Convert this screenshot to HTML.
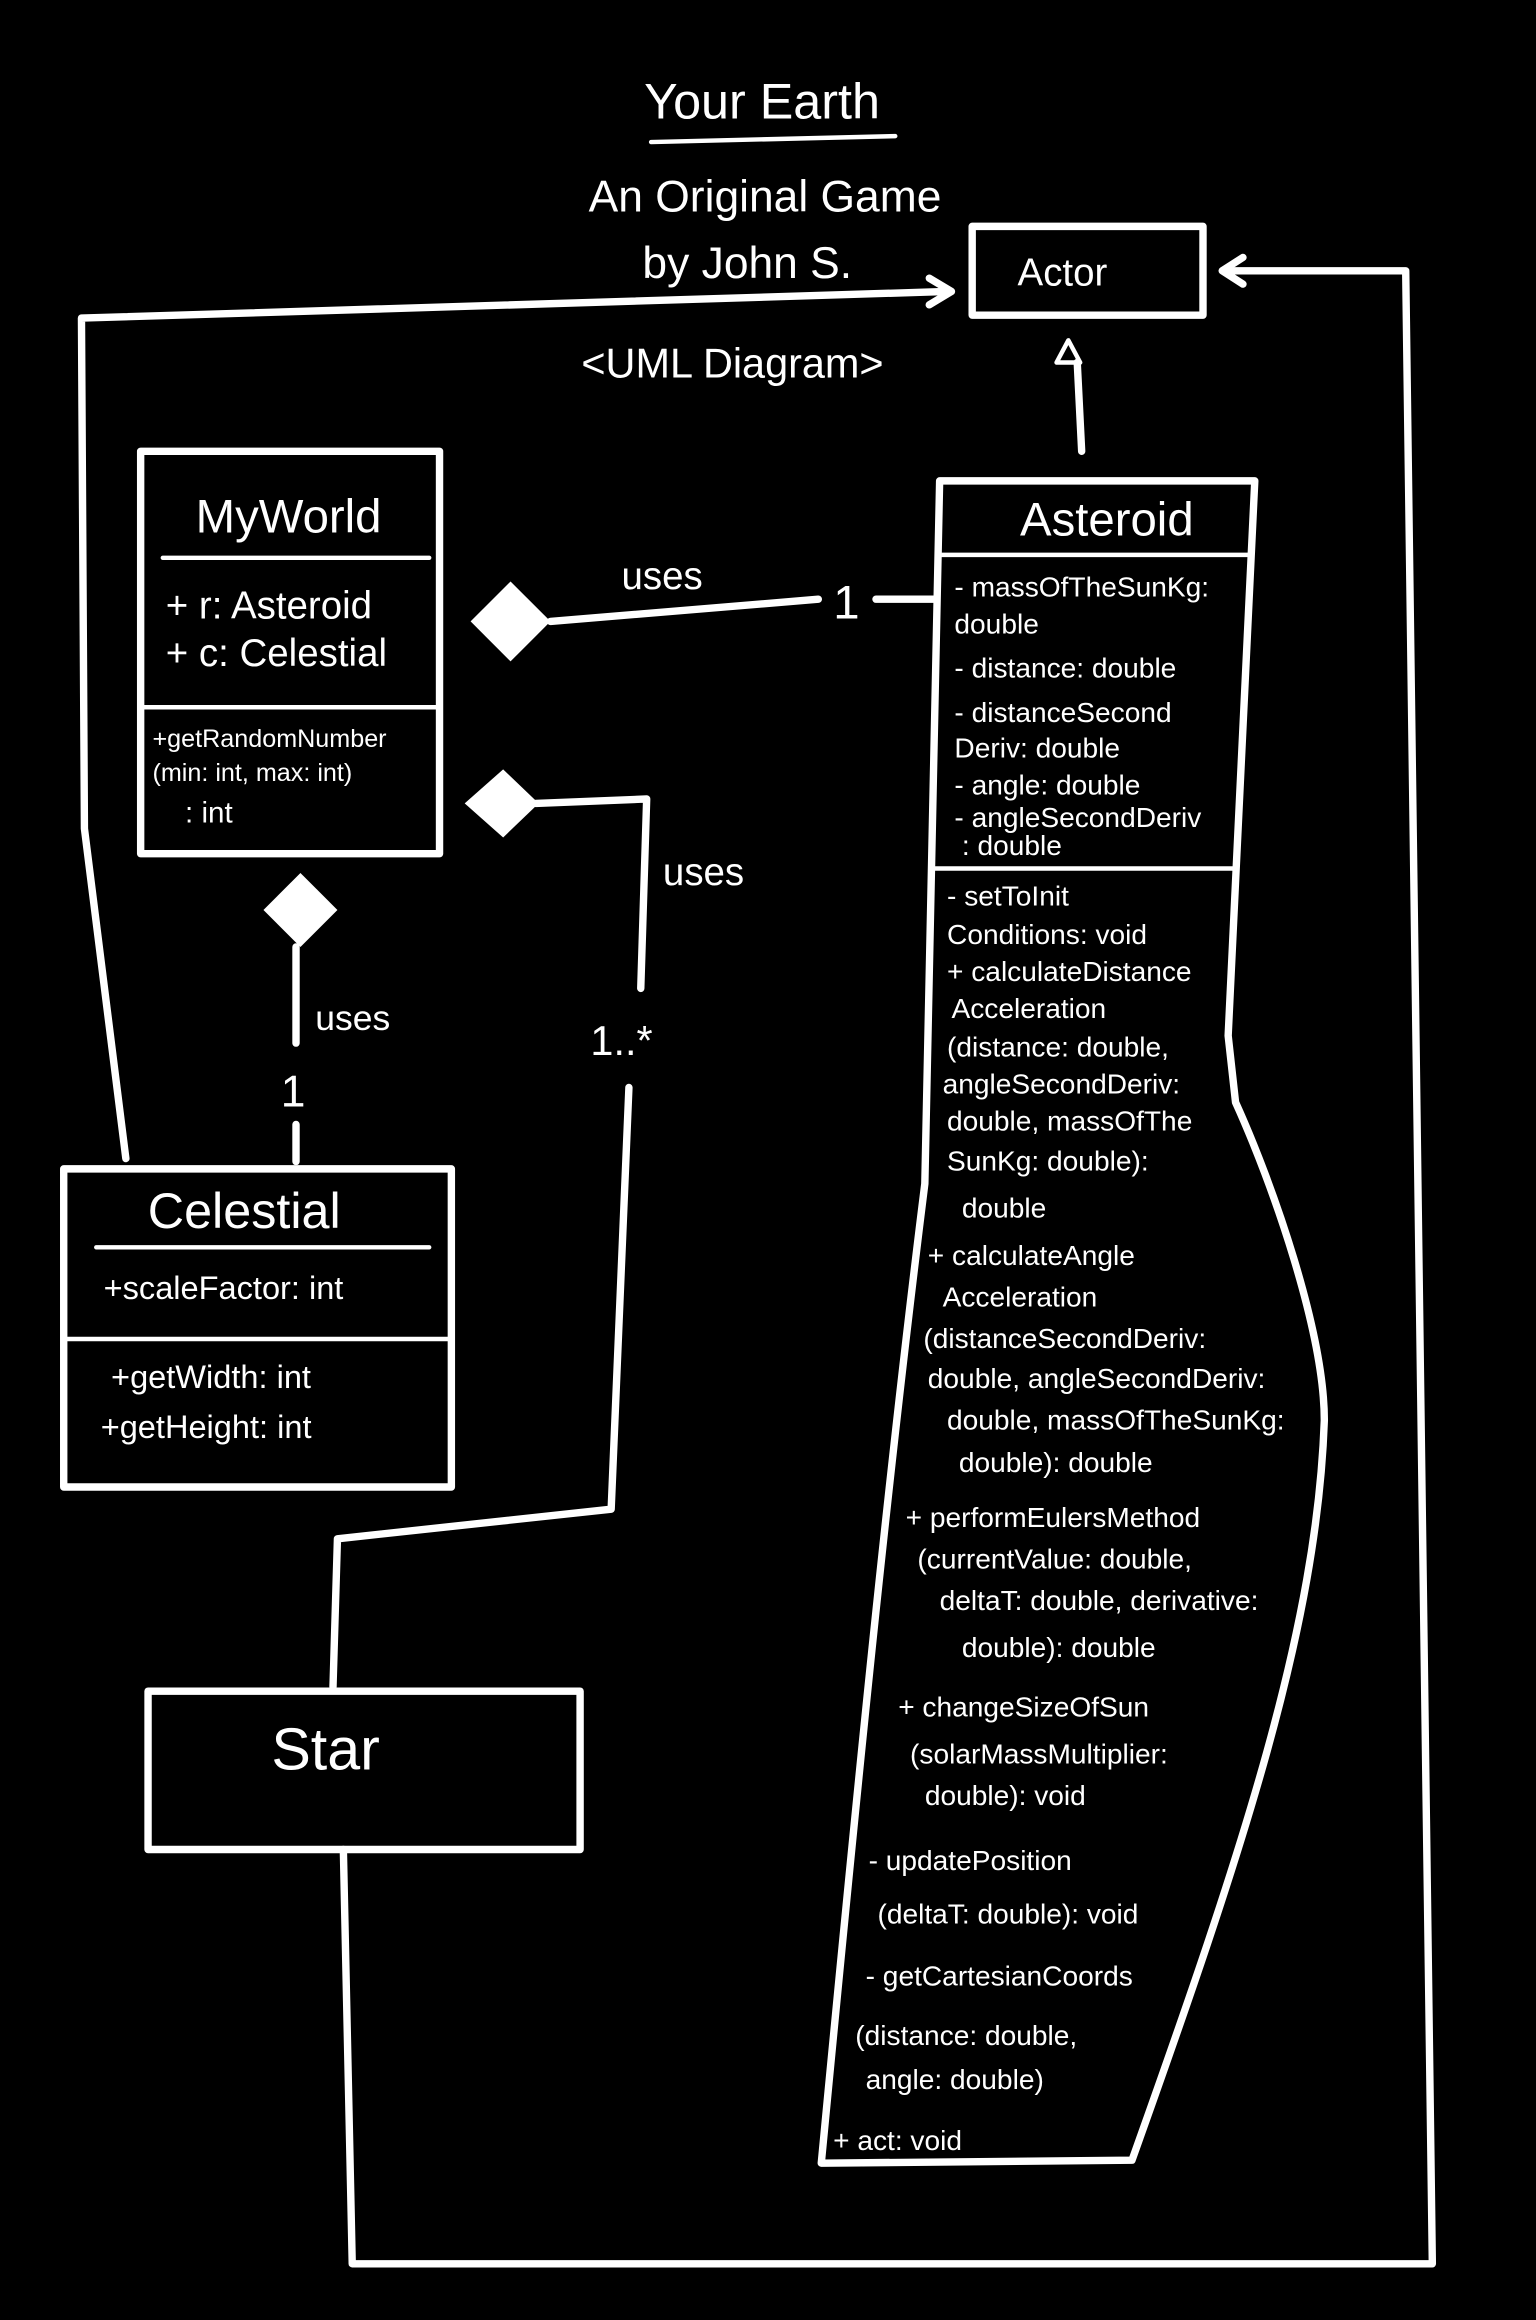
<!DOCTYPE html>
<html><head><meta charset="utf-8"><style>
html,body{margin:0;padding:0;background:#000;width:1536px;height:2320px;overflow:hidden}
svg{display:block}
text{font-family:"Liberation Sans",sans-serif;fill:#fff}
</style></head><body>
<svg width="1536" height="2320" viewBox="0 0 1038 1568" xmlns="http://www.w3.org/2000/svg">
<rect width="1038" height="1568" fill="#000"/>
<g stroke="#fff" stroke-width="5" fill="none" stroke-linejoin="round" stroke-linecap="round">
<!-- title underline -->
<line x1="440" y1="96" x2="605" y2="92" stroke-width="3"/>
<!-- Actor -->
<rect x="657" y="153" width="156" height="60"/>
<!-- left connector to Actor -->
<polyline points="85,783 57,560 55,215 640,197"/>
<polyline points="628,188 643,197 628,206"/>
<!-- right connector -->
<polyline points="832,183 950,183 968,1530 238,1530 232,1250"/>
<polyline points="840,174 826,183 840,192"/>
<!-- inheritance -->
<line x1="728" y1="245" x2="731" y2="305"/>
<polygon points="722,230 714,245 730,245" stroke-width="3"/>
<!-- MyWorld -->
<rect x="95" y="305" width="202" height="272"/>
<line x1="110" y1="377" x2="290" y2="377" stroke-width="3"/>
<line x1="95" y1="478" x2="297" y2="478" stroke-width="3"/>
<!-- Asteroid -->
<path d="M635,325 L848,325 L830,700 L835,745 C860,800 895,900 895,960 C890,1100 840,1250 765,1460 L555,1462 C580,1200 600,1000 625,800 L635,325 Z"/>
<line x1="635" y1="375" x2="846" y2="375" stroke-width="3"/>
<line x1="632" y1="587" x2="836" y2="587" stroke-width="3"/>
<!-- uses 1 -->
<line x1="372" y1="420" x2="553" y2="405"/>
<line x1="592" y1="405" x2="632" y2="405"/>
<!-- uses 1..* -->
<polyline points="362,543 437,540 433,668"/>
<polyline points="425,735 413,1020 228,1040 225,1140"/>
<!-- uses celestial -->
<line x1="200" y1="640" x2="200" y2="705"/>
<line x1="200" y1="760" x2="200" y2="785"/>
<!-- Celestial -->
<rect x="43" y="790" width="262" height="215"/>
<line x1="65" y1="843" x2="290" y2="843" stroke-width="3"/>
<line x1="43" y1="905" x2="305" y2="905" stroke-width="3"/>
<!-- Star -->
<rect x="100" y="1143" width="292" height="107"/>
</g>
<g fill="#fff">
<polygon points="318,420 345,393 372,420 345,447"/>
<polygon points="314,543 340,520 364,543 340,566"/>
<polygon points="178,615 203,590 228,615 203,640"/>
</g>
<text x="515" y="80" font-size="34" text-anchor="middle">Your Earth</text>
<text x="517" y="143" font-size="30" text-anchor="middle">An Original Game</text>
<text x="505" y="188" font-size="30" text-anchor="middle">by John S.</text>
<text x="495" y="255" font-size="28" text-anchor="middle">&lt;UML Diagram&gt;</text>
<text x="718" y="193" font-size="26" text-anchor="middle">Actor</text>
<text x="195" y="360" font-size="32" text-anchor="middle">MyWorld</text>
<text x="112" y="418" font-size="26">+ r: Asteroid</text>
<text x="112" y="450" font-size="26">+ c: Celestial</text>
<text x="103" y="505" font-size="17">+getRandomNumber</text>
<text x="103" y="528" font-size="17">(min: int, max: int)</text>
<text x="125" y="556" font-size="20">: int</text>
<text x="748" y="362" font-size="32" text-anchor="middle">Asteroid</text>
<g font-size="19">
<text x="645" y="403">- massOfTheSunKg:</text>
<text x="645" y="428">double</text>
<text x="645" y="458">- distance: double</text>
<text x="645" y="488">- distanceSecond</text>
<text x="645" y="512">Deriv: double</text>
<text x="645" y="537">- angle: double</text>
<text x="645" y="559">- angleSecondDeriv</text>
<text x="650" y="578">: double</text>
<text x="640" y="612">- setToInit</text>
<text x="640" y="638">Conditions: void</text>
<text x="640" y="663">+ calculateDistance</text>
<text x="643" y="688">Acceleration</text>
<text x="640" y="714">(distance: double,</text>
<text x="637" y="739">angleSecondDeriv:</text>
<text x="640" y="764">double, massOfThe</text>
<text x="640" y="791">SunKg: double):</text>
<text x="650" y="823">double</text>
<text x="627" y="855">+ calculateAngle</text>
<text x="637" y="883">Acceleration</text>
<text x="624" y="911">(distanceSecondDeriv:</text>
<text x="627" y="938">double, angleSecondDeriv:</text>
<text x="640" y="966">double, massOfTheSunKg:</text>
<text x="648" y="995">double): double</text>
<text x="612" y="1032">+ performEulersMethod</text>
<text x="620" y="1060">(currentValue: double,</text>
<text x="635" y="1088">deltaT: double, derivative:</text>
<text x="650" y="1120">double): double</text>
<text x="607" y="1160">+ changeSizeOfSun</text>
<text x="615" y="1192">(solarMassMultiplier:</text>
<text x="625" y="1220">double): void</text>
<text x="587" y="1264">- updatePosition</text>
<text x="593" y="1300">(deltaT: double): void</text>
<text x="585" y="1342">- getCartesianCoords</text>
<text x="578" y="1382">(distance: double,</text>
<text x="585" y="1412">angle: double)</text>
<text x="563" y="1453">+ act: void</text>
</g>
<text x="420" y="398" font-size="26">uses</text>
<text x="572" y="418" font-size="32" text-anchor="middle">1</text>
<text x="448" y="598" font-size="26">uses</text>
<text x="420" y="713" font-size="28" text-anchor="middle">1..*</text>
<text x="213" y="696" font-size="24">uses</text>
<text x="198" y="748" font-size="30" text-anchor="middle">1</text>
<text x="165" y="830" font-size="34" text-anchor="middle">Celestial</text>
<text x="70" y="878" font-size="22">+scaleFactor: int</text>
<text x="75" y="938" font-size="22">+getWidth: int</text>
<text x="68" y="972" font-size="22">+getHeight: int</text>
<text x="220" y="1196" font-size="40" text-anchor="middle">Star</text>
</svg>
</body></html>
